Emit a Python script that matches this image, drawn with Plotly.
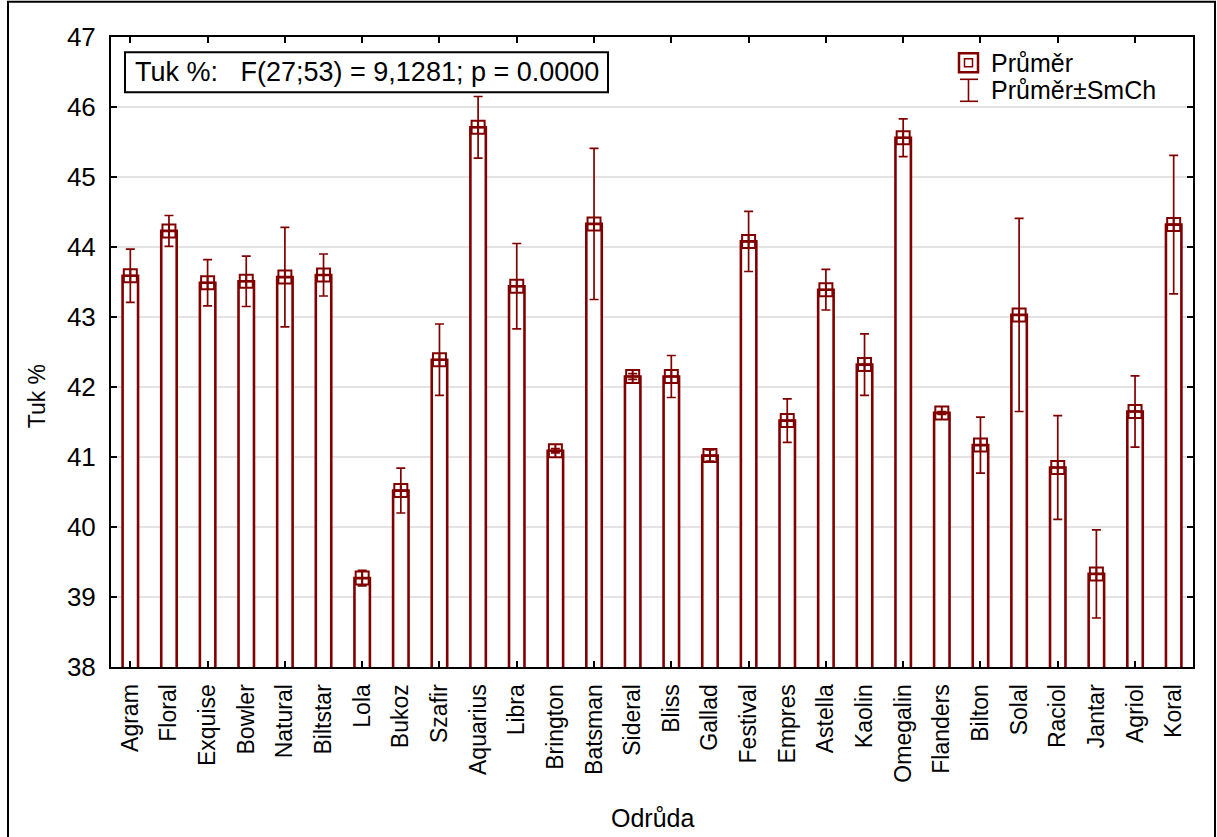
import plotly.graph_objects as go

categories = ["Agram", "Floral", "Exquise", "Bowler", "Natural", "Biltstar", "Lola", "Bukoz",
              "Szafir", "Aquarius", "Libra", "Brington", "Batsman", "Sideral", "Bliss", "Gallad",
              "Festival", "Empres", "Astella", "Kaolin", "Omegalin", "Flanders", "Bilton", "Solal",
              "Raciol", "Jantar", "Agriol", "Koral"]
means = [43.59, 44.23, 43.49, 43.51, 43.57, 43.60, 39.27, 40.52,
         42.39, 45.71, 43.44, 41.09, 44.33, 42.15, 42.15, 41.02,
         44.08, 41.52, 43.39, 42.32, 45.56, 41.63, 41.17, 43.03,
         40.85, 39.33, 41.65, 44.32]
sem = [0.38, 0.22, 0.33, 0.36, 0.71, 0.30, 0.11, 0.32,
       0.51, 0.44, 0.61, 0.03, 1.08, 0.04, 0.30, 0.08,
       0.43, 0.31, 0.29, 0.44, 0.27, 0.02, 0.40, 1.38,
       0.74, 0.63, 0.51, 0.99]
y_ticks = [38, 39, 40, 41, 42, 43, 44, 45, 46, 47]

RED = "#800000"
FONT = "Liberation Sans, Arial, sans-serif"
xs = list(range(len(categories)))

# plot area in pixels (for decoration placement)
L, R, T, B = 111, 1193, 36.7, 666.7
def px(x):
    return (x - L) / (R - L)
def py(y):
    return (B - y) / (B - T)

fig = go.Figure()
fig.add_trace(go.Bar(
    x=xs, y=means, width=0.4,
    marker=dict(color="white", line=dict(color=RED, width=2.6)),
    showlegend=False, hoverinfo="skip"))
fig.add_trace(go.Scatter(
    x=xs, y=means, mode="markers",
    marker=dict(symbol="square-cross-open", size=13, color=RED, line=dict(width=2, color=RED)),
    error_y=dict(type="data", array=sem, visible=True, color=RED, thickness=1.7, width=4.5),
    showlegend=False))
# invisible trace for the secondary (tick) axis
fig.add_trace(go.Scatter(x=[xs[0]], y=[means[0]], xaxis="x2", mode="markers",
                         marker=dict(opacity=0), showlegend=False, hoverinfo="skip"))

fig.update_layout(
    width=1217, height=837,
    margin=dict(l=L, r=1217 - R, t=T, b=837 - B),
    paper_bgcolor="white", plot_bgcolor="white",
    font=dict(family=FONT, color="black", size=22),
    bargap=0.6,
    xaxis=dict(range=[-0.5, len(categories) - 0.5], tickvals=xs, ticktext=categories,
               tickangle=-90, ticks="", showgrid=False, showline=True, linecolor="black",
               linewidth=2, mirror=True, tickfont=dict(size=23, family=FONT),
               ticklabelstandoff=6, zeroline=False),
    xaxis2=dict(range=[-0.5, len(categories) - 0.5], overlaying="x",
                tickvals=xs[::2], ticks="inside", ticklen=6, tickwidth=2, tickcolor="black",
                showticklabels=False, showgrid=False, showline=False, mirror="ticks",
                side="bottom", zeroline=False),
    yaxis=dict(range=[y_ticks[0], y_ticks[-1]], tickvals=y_ticks, ticks="inside", ticklen=6,
               tickwidth=2, tickcolor="black", mirror="ticks", showline=True, linecolor="black",
               linewidth=2, showgrid=True, gridcolor="#e3e3e3", gridwidth=1.5,
               tickfont=dict(size=26, family=FONT), ticklabelstandoff=8, zeroline=False),
)

shapes = []
# outer figure frame
shapes.append(dict(type="rect", xref="paper", yref="paper",
                   x0=px(8), x1=px(1215), y0=py(845), y1=py(1.5),
                   line=dict(color="black", width=2), fillcolor="rgba(0,0,0,0)", layer="below"))
# stats box
shapes.append(dict(type="rect", xref="paper", yref="paper",
                   x0=px(125), x1=px(608), y0=py(92), y1=py(52),
                   line=dict(color="black", width=2), fillcolor="white"))
# legend icons
shapes.append(dict(type="rect", xref="paper", yref="paper",
                   x0=px(959), x1=px(978), y0=py(72), y1=py(53),
                   line=dict(color=RED, width=2.5), fillcolor="white"))
shapes.append(dict(type="rect", xref="paper", yref="paper",
                   x0=px(964.5), x1=px(972.5), y0=py(66.5), y1=py(58.5),
                   line=dict(color=RED, width=1.5)))
shapes.append(dict(type="line", xref="paper", yref="paper",
                   x0=px(968.5), x1=px(968.5), y0=py(101), y1=py(79),
                   line=dict(color=RED, width=1.6)))
for yy in (79, 101):
    shapes.append(dict(type="line", xref="paper", yref="paper",
                       x0=px(960), x1=px(978), y0=py(yy), y1=py(yy),
                       line=dict(color=RED, width=1.6)))
fig.update_layout(shapes=shapes)

annotations = [
    dict(text="Tuk %:   F(27;53) = 9,1281; p = 0.0000", xref="paper", yref="paper",
         x=px(366.5), y=py(72), xanchor="center", yanchor="middle", showarrow=False,
         font=dict(size=27, family=FONT)),
    dict(text="Průměr", xref="paper", yref="paper", x=px(989), y=py(63),
         xanchor="left", yanchor="middle", showarrow=False, font=dict(size=25, family=FONT)),
    dict(text="Průměr±SmCh", xref="paper", yref="paper", x=px(989), y=py(90),
         xanchor="left", yanchor="middle", showarrow=False, font=dict(size=25, family=FONT)),
    dict(text="Odrůda", xref="paper", yref="paper", x=px(652), y=py(818),
         xanchor="center", yanchor="middle", showarrow=False, font=dict(size=25, family=FONT)),
    dict(text="Tuk %", xref="paper", yref="paper", x=px(37), y=py(396), textangle=-90,
         xanchor="center", yanchor="middle", showarrow=False, font=dict(size=23, family=FONT)),
]
fig.update_layout(annotations=annotations)

fig.write_html("out.html", config={"displayModeBar": False},
               post_script="document.body.style.margin='0';document.body.style.overflow='hidden';")
